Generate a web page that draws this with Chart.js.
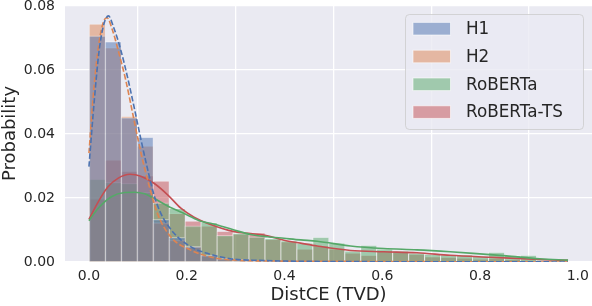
<!DOCTYPE html>
<html>
<head>
<meta charset="utf-8">
<script src="https://cdn.jsdelivr.net/npm/chart.js@4.4.1/dist/chart.umd.min.js"></script>
<style>
    html, body { margin: 0; padding: 0; background: #ffffff; }
    #dist-chart { display: block; }
</style>
</head>
<body>
<canvas id="dist-chart" width="592" height="306"></canvas>
<script>
// Histogram bin centres (30 common bins over 0 .. 0.98)
const binCenters = [
    0.0163, 0.0490, 0.0817, 0.1143, 0.1470, 0.1797, 0.2123, 0.2450, 0.2777, 0.3103,
    0.3430, 0.3757, 0.4083, 0.4410, 0.4737, 0.5063, 0.5390, 0.5717, 0.6043, 0.6370,
    0.6697, 0.7023, 0.7350, 0.7677, 0.8003, 0.8330, 0.8657, 0.8983, 0.9310, 0.9637
];

const seriesNames = ['H1', 'H2', 'RoBERTa', 'RoBERTa-TS'];

// Bar heights (probability) per bin
const h1Hist = [
    0.0707, 0.0689, 0.0451, 0.0390, 0.0133, 0.0077, 0.0048, 0.0022, 0.0012, 0.0008,
    0.0005, 0.0003, 0.0002, 0.0002, 0.0001, 0.0001, 0, 0.0001, 0, 0,
    0.0001, 0, 0, 0, 0, 0, 0, 0, 0, 0
];
const h2Hist = [
    0.0744, 0.0670, 0.0456, 0.0363, 0.0123, 0.0069, 0.0048, 0.0020, 0.0010, 0.0007,
    0.0004, 0.0002, 0.0002, 0.0001, 0.0001, 0, 0.0001, 0, 0, 0,
    0, 0, 0.0001, 0, 0, 0, 0, 0, 0, 0
];
const robertaHist = [
    0.0259, 0.0249, 0.0246, 0.0218, 0.0185, 0.0168, 0.0113, 0.0124, 0.0083, 0.0090,
    0.0079, 0.0074, 0.0067, 0.0060, 0.0078, 0.0060, 0.0035, 0.0053, 0.0041, 0.0035,
    0.0029, 0.0025, 0.0023, 0.0023, 0.0019, 0.0031, 0.0021, 0.0022, 0.0006, 0.0003
];
const robertaTsHist = [
    0.0197, 0.0319, 0.0284, 0.0270, 0.0254, 0.0152, 0.0129, 0.0113, 0.0097, 0.0088,
    0.0092, 0.0071, 0.0064, 0.0041, 0.0051, 0.0041, 0.0029, 0.0022, 0.0036, 0.0030,
    0.0025, 0.0017, 0.0015, 0.0013, 0.0010, 0.0012, 0.0008, 0.0006, 0.0003, 0.0002
];

// KDE curves as [x, density] pairs
const h1Kde = [
    [0, 0.0298], [0.011, 0.0506], [0.021, 0.0663], [0.031, 0.0746], [0.040, 0.0769],
    [0.050, 0.0735], [0.065, 0.0663], [0.080, 0.0570], [0.095, 0.0465], [0.106, 0.0385],
    [0.120, 0.0290], [0.133, 0.0210], [0.147, 0.0152], [0.174, 0.0090], [0.208, 0.0048],
    [0.242, 0.0027], [0.290, 0.0010], [0.350, 0.0005], [0.450, 0.0002], [0.600, 0.0001],
    [0.800, 0.0001], [0.980, 0.0000]
];
const h2Kde = [
    [0, 0.0340], [0.010, 0.0540], [0.020, 0.0680], [0.030, 0.0752], [0.037, 0.0763],
    [0.048, 0.0725], [0.060, 0.0660], [0.075, 0.0570], [0.090, 0.0460], [0.105, 0.0350],
    [0.120, 0.0256], [0.140, 0.0152], [0.167, 0.0079], [0.208, 0.0037], [0.250, 0.0015],
    [0.300, 0.0006], [0.380, 0.0003], [0.500, 0.0002], [0.700, 0.0001], [0.980, 0.0000]
];
const robertaKde = [
    [0, 0.0129], [0.019, 0.0168], [0.046, 0.0204], [0.073, 0.0217], [0.094, 0.0218],
    [0.114, 0.0213], [0.133, 0.0199], [0.161, 0.0175], [0.201, 0.0147], [0.229, 0.0127],
    [0.249, 0.0121], [0.297, 0.0100], [0.331, 0.0086], [0.365, 0.0079], [0.399, 0.0074],
    [0.433, 0.0069], [0.467, 0.0065], [0.535, 0.0050], [0.603, 0.0042], [0.671, 0.0038],
    [0.739, 0.0032], [0.786, 0.0027], [0.854, 0.0019], [0.922, 0.0010], [0.980, 0.0006]
];
const robertaTsKde = [
    [0, 0.0133], [0.019, 0.0188], [0.039, 0.0235], [0.060, 0.0262], [0.084, 0.0274],
    [0.106, 0.0268], [0.133, 0.0246], [0.161, 0.0210], [0.188, 0.0168], [0.215, 0.0140],
    [0.246, 0.0119], [0.297, 0.0095], [0.331, 0.0089], [0.358, 0.0084], [0.399, 0.0068],
    [0.433, 0.0059], [0.467, 0.0050], [0.535, 0.0036], [0.603, 0.0032], [0.671, 0.0029],
    [0.739, 0.0021], [0.820, 0.0015], [0.922, 0.0008], [0.980, 0.0005]
];

const xTicks = [0, 0.2, 0.4, 0.6, 0.8, 1.0];
const yTicks = [0, 0.02, 0.04, 0.06, 0.08];

// seaborn "deep" palette
const palette = ['#4C72B0', '#DD8452', '#55A868', '#C44E52'];
const TEXT = '#262626';
const FONT = "'DejaVu Sans', 'Liberation Sans', sans-serif";

function withAlpha(hex, a) {
    const n = parseInt(hex.slice(1), 16);
    return 'rgba(' + (n >> 16) + ', ' + ((n >> 8) & 255) + ', ' + (n & 255) + ', ' + a + ')';
}

function toPoints(values) {
    return values.map((v, i) => ({ x: binCenters[i], y: v }));
}

function histDataset(name, values, color) {
    return {
        type: 'bar',
        label: name,
        data: toPoints(values),
        backgroundColor: withAlpha(color, 0.5),
        borderColor: 'rgba(255, 255, 255, 0.35)',
        borderWidth: { top: 1, left: 1, right: 0, bottom: 0 },
        borderSkipped: false,
        grouped: false,
        barPercentage: 1.0,
        categoryPercentage: 1.0,
        order: 1
    };
}

function kdeDataset(name, pairs, color, dashed) {
    return {
        type: 'line',
        label: name + ' kde',
        data: pairs.map(p => ({ x: p[0], y: p[1] })),
        borderColor: color,
        borderWidth: 1.6,
        borderDash: dashed ? [5.5, 2.4] : [],
        pointRadius: 0,
        fill: false,
        cubicInterpolationMode: 'monotone',
        order: 0
    };
}

// Grey plot background, like seaborn darkgrid
const plotBackground = {
    id: 'plotBackground',
    beforeDraw(chart) {
        const { ctx, chartArea: a } = chart;
        ctx.save();
        ctx.fillStyle = '#EAEAF2';
        ctx.fillRect(a.left, a.top, a.right - a.left, a.bottom - a.top);
        ctx.restore();
    }
};

// Framed legend inside the plot, top right
const boxLegend = {
    id: 'boxLegend',
    afterDraw(chart) {
        const ctx = chart.ctx;
        const x = 405.5, y = 14.5, w = 178, h = 115, r = 4;
        ctx.save();
        ctx.beginPath();
        ctx.roundRect(x, y, w, h, r);
        ctx.fillStyle = 'rgba(234, 234, 242, 0.8)';
        ctx.fill();
        ctx.strokeStyle = 'rgba(204, 204, 204, 0.8)';
        ctx.lineWidth = 1;
        ctx.stroke();

        ctx.font = '16.8px ' + FONT;
        ctx.textBaseline = 'middle';
        seriesNames.forEach((name, i) => {
            const cy = 28.7 + i * 27.8;
            ctx.fillStyle = '#EAEAF2';
            ctx.fillRect(413, cy - 6.3, 37.5, 12.6);
            ctx.fillStyle = withAlpha(palette[i], 0.5);
            ctx.fillRect(413, cy - 6.3, 37.5, 12.6);
            ctx.strokeStyle = 'rgba(255, 255, 255, 0.6)';
            ctx.strokeRect(413, cy - 6.3, 37.5, 12.6);
            ctx.fillStyle = TEXT;
            ctx.fillText(name, 466, cy + 1);
        });
        ctx.restore();
    }
};

const ctx = document.getElementById('dist-chart');

new Chart(ctx, {
    type: 'bar',
    data: {
        datasets: [
            kdeDataset(seriesNames[0], h1Kde, palette[0], true),
            kdeDataset(seriesNames[1], h2Kde, palette[1], true),
            kdeDataset(seriesNames[2], robertaKde, palette[2], false),
            kdeDataset(seriesNames[3], robertaTsKde, palette[3], false),
            histDataset(seriesNames[0], h1Hist, palette[0]),
            histDataset(seriesNames[1], h2Hist, palette[1]),
            histDataset(seriesNames[2], robertaHist, palette[2]),
            histDataset(seriesNames[3], robertaTsHist, palette[3])
        ]
    },
    options: {
        responsive: false,
        animation: false,
        devicePixelRatio: 1,
        layout: {
            padding: { top: 5, right: 0, bottom: 0, left: 0 }
        },
        scales: {
            x: {
                type: 'linear',
                min: -0.049,
                max: 1.029,
                offset: false,
                afterBuildTicks(scale) {
                    scale.ticks = xTicks.map(v => ({ value: v }));
                },
                afterFit(scale) {
                    scale.height = 44;
                    scale.paddingLeft = 0;
                    scale.paddingRight = 0;
                },
                ticks: {
                    padding: 6,
                    color: TEXT,
                    font: { family: FONT, size: 14 },
                    maxRotation: 0,
                    callback: v => v.toFixed(1)
                },
                grid: {
                    color: '#ffffff',
                    lineWidth: 1.3,
                    drawTicks: false
                },
                border: { display: false },
                title: {
                    display: true,
                    text: 'DistCE (TVD)',
                    color: TEXT,
                    font: { family: FONT, size: 18 },
                    padding: { top: 0, bottom: 0 }
                }
            },
            y: {
                type: 'linear',
                min: 0,
                max: 0.0803,
                afterBuildTicks(scale) {
                    scale.ticks = yTicks.map(v => ({ value: v }));
                },
                afterFit(scale) {
                    scale.width = 65;
                    scale.paddingTop = 0;
                    scale.paddingBottom = 0;
                },
                ticks: {
                    padding: 10,
                    color: TEXT,
                    font: { family: FONT, size: 14 },
                    callback: v => v.toFixed(2)
                },
                grid: {
                    color: '#ffffff',
                    lineWidth: 1.3,
                    drawTicks: false
                },
                border: { display: false },
                title: {
                    display: true,
                    text: 'Probability',
                    color: TEXT,
                    font: { family: FONT, size: 18 },
                    padding: { top: 0, bottom: 0 }
                }
            }
        },
        plugins: {
            legend: { display: false },
            tooltip: { enabled: false }
        }
    },
    plugins: [plotBackground, boxLegend]
});
</script>
</body>
</html>
